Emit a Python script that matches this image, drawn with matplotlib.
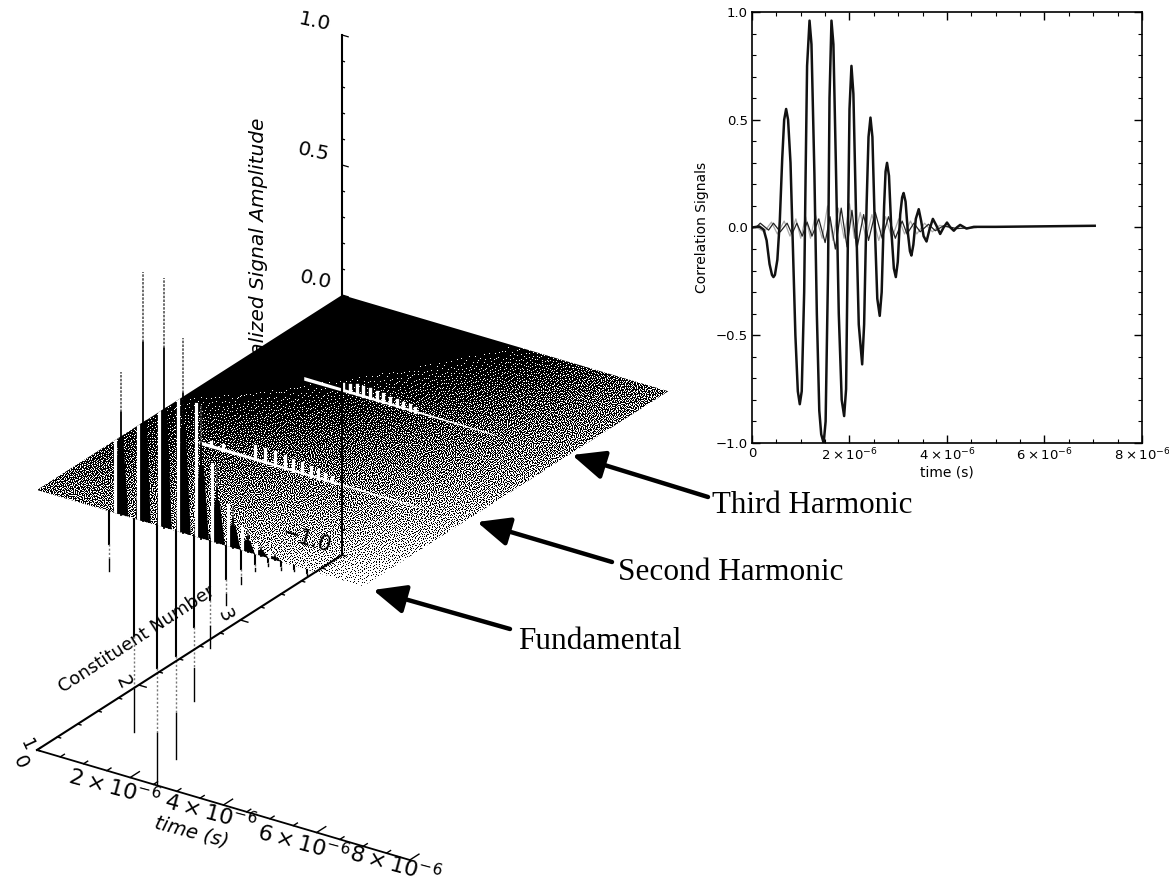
import numpy as np
import matplotlib
matplotlib.use('Agg')
import matplotlib.pyplot as plt
from matplotlib.patches import Polygon

# correlation signals, time in units of 1e-6 s
main_t = np.array([0, 0.15, 0.24, 0.30, 0.36, 0.41, 0.44, 0.47, 0.52, 0.57, 0.62, 0.66, 0.70, 0.74, 0.79, 0.84,
                   0.89, 0.94, 0.98, 1.02, 1.07, 1.10, 1.13, 1.18, 1.22, 1.28, 1.33, 1.38, 1.42, 1.47, 1.51, 1.56,
                   1.59, 1.63, 1.67, 1.72, 1.78, 1.84, 1.89, 1.93, 1.97, 2.00, 2.04, 2.08, 2.13, 2.19, 2.26, 2.30,
                   2.35, 2.39, 2.43, 2.47, 2.52, 2.57, 2.62, 2.66, 2.71, 2.74, 2.77, 2.81, 2.86, 2.91, 2.95, 2.99,
                   3.04, 3.08, 3.11, 3.15, 3.20, 3.24, 3.27, 3.31, 3.36, 3.42, 3.47, 3.52, 3.58, 3.64, 3.71, 3.78,
                   3.86, 3.93, 4.00, 4.07, 4.14, 4.20, 4.27, 4.40, 4.55, 5.00, 7.03])
main_v = np.array([0, 0.005, -0.01, -0.06, -0.17, -0.22, -0.23, -0.22, -0.15, 0.03, 0.32, 0.50, 0.55, 0.50, 0.30, -0.10,
                   -0.50, -0.76, -0.82, -0.76, -0.30, 0.25, 0.75, 0.96, 0.85, 0.25, -0.40, -0.85, -0.96, -1.0, -0.90, -0.20,
                   0.60, 0.96, 0.85, 0.30, -0.40, -0.80, -0.875, -0.75, 0.0, 0.55, 0.75, 0.62, 0.10, -0.45, -0.635, -0.45,
                   0.10, 0.42, 0.51, 0.42, 0.0, -0.33, -0.41, -0.30, 0.10, 0.26, 0.30, 0.24, -0.02, -0.19, -0.23, -0.16,
                   0.06, 0.14, 0.16, 0.12, -0.03, -0.11, -0.13, -0.08, 0.04, 0.085, 0.03, -0.04, -0.065, -0.01, 0.04, 0.01,
                   -0.03, 0.0, 0.023, 0.0, -0.015, 0.0, 0.012, -0.005, 0.003, 0.003, 0.008])

second_t = np.array([0.08, 0.17, 0.34, 0.44, 0.58, 0.72, 0.82, 0.92, 1.03, 1.13, 1.23, 1.37, 1.50, 1.60, 1.71, 1.83, 1.95,
                     2.05, 2.15, 2.29, 2.39, 2.53, 2.67, 2.80, 2.94, 3.08, 3.18, 3.32, 3.45, 3.62, 3.76, 3.93, 4.20, 4.60])
second_v = np.array([0, 0.02, -0.012, 0.02, -0.02, 0.02, -0.03, 0.02, -0.04, 0.025, -0.04, 0.04, -0.07, 0.05, -0.10, 0.09, -0.09,
                     0.08, -0.10, 0.06, -0.06, 0.07, -0.05, 0.05, -0.05, 0.03, -0.03, 0.02, -0.02, 0.015, -0.015, 0.008, -0.005, 0])

third_t = np.array([0.10, 0.25, 0.40, 0.52, 0.66, 0.78, 0.90, 1.00, 1.10, 1.20, 1.30, 1.44, 1.55, 1.66, 1.77, 1.89, 2.00,
                    2.10, 2.22, 2.34, 2.46, 2.60, 2.74, 2.87, 3.01, 3.13, 3.25, 3.38, 3.54, 3.70, 3.85, 4.05])
third_v = np.array([0, -0.02, 0.025, -0.03, 0.03, -0.04, 0.04, -0.05, 0.05, -0.05, 0.06, -0.05, 0.10, -0.06, 0.09, -0.05, 0.11,
                    -0.05, 0.07, -0.05, 0.06, -0.06, 0.05, -0.05, 0.04, -0.03, 0.03, -0.03, 0.02, -0.02, 0.01, 0])

# fundamental spikes on the surface plot (time in 1e-6 s)
spike_up_t = np.array([1.80, 2.28, 2.73, 3.14, 3.53, 3.87, 4.21, 4.52, 4.81, 5.10])
spike_up_v = np.array([0.55, 0.96, 0.96, 0.75, 0.51, 0.30, 0.16, 0.085, 0.04, 0.023])
spike_down_t = np.array([1.54, 2.08, 2.57, 2.99, 3.36, 3.72, 4.05, 4.37, 4.68, 4.96, 5.24, 5.52, 5.80])
spike_down_v = np.array([-0.23, -0.82, -1.0, -0.875, -0.635, -0.41, -0.23, -0.13, -0.065, -0.03, -0.03, -0.02, -0.02])

# harmonic ridges
ridge_c = [2, 3]
ridge_start = [1.30, 1.37]
ridge_end = [6.10, 5.50]
teeth2_t = np.array([1.55, 1.80, 2.49, 2.70, 2.92, 3.13, 3.31, 3.50, 3.70, 3.85, 4.00, 4.15])
teeth2_v = np.array([0.015, 0.02, 0.05, 0.05, 0.05, 0.045, 0.04, 0.04, 0.035, 0.03, 0.025, 0.02])
teeth3_t = np.array([2.20, 2.35, 2.50, 2.63, 2.78, 2.93, 3.06, 3.21, 3.36, 3.49, 3.64, 3.75])
teeth3_v = np.array([0.025, 0.03, 0.035, 0.035, 0.035, 0.03, 0.03, 0.025, 0.025, 0.02, 0.02, 0.015])

t_range = [0, 8]
c_range = [1, 4]
z_range = [-1, 1]
surf_t = [0, 7]
t_major = [2, 4, 6, 8]
t_minor = np.arange(0, 8.5, 0.5)
c_major = [2, 3]
c_minor = np.arange(1, 4.01, 0.2)
z_major = [0.0, 0.5, 1.0]
z_minor = np.arange(-1, 1.01, 0.1)


def project(t, c, z):
    # axonometric view of the box, in figure pixels
    t, c, z = np.asarray(t, float), np.asarray(c, float), np.asarray(z, float)
    x = 37 + 46.6 * t + 101.7 * (c - 1)
    y = 490 + 13.75 * t - 65.0 * (c - 1) - 260.0 * z
    return x, y


fig = plt.figure(figsize=(11.69, 8.88), dpi=100)
ax = fig.add_axes([0, 0, 1, 1])
ax.axis('off')

# axis title sits behind the surface
ax.text(259, 118, 'Normalized Signal Amplitude', rotation=90, ha='center', va='top', fontsize=14.5, style='italic', zorder=1)

# surface: grey level goes from black at the far corner to white at the near one, error diffused like the print
corners = [project(surf_t[0], c_range[0], 0), project(surf_t[1], c_range[0], 0),
           project(surf_t[1], c_range[1], 0), project(surf_t[0], c_range[1], 0)]
px0, px1 = 30, 680
py0, py1 = 285, 600
gx, gy = np.meshgrid(np.arange(px0, px1) + 0.5, np.arange(py0, py1) + 0.5)
inv = np.linalg.inv(np.array([[46.6, 101.7], [13.75, -65.0]]))
tt = inv[0, 0] * (gx - 37) + inv[0, 1] * (gy - 490)
cc = inv[1, 0] * (gx - 37) + inv[1, 1] * (gy - 490)
u = np.clip(tt / surf_t[1], 0, 1)
w = np.clip(cc / 3, 0, 1)
dark = (1 - u) * (1 - w) * 0.5 + u * (1 - w) * 0.04 + (1 - u) * w * 1.5 + u * w * 0.5
grey = (1 - np.clip(dark, 0, 1) ** 0.75).tolist()
# pixel hash jitters the threshold so the dots do not line up into bands
jitter = np.sin(gx * 12.9898 + gy * 78.233) * 43758.5453
jitter = (jitter - np.floor(jitter) - 0.5) * 0.8 + 0.5
jitter = jitter.tolist()
h = len(grey)
n = len(grey[0])
img = np.zeros((h, n))
for j in range(h):
    row = grey[j]
    below = grey[j + 1] if j + 1 < h else None
    for i in range(n):
        val = 1.0 if row[i] > jitter[j][i] else 0.0
        err = row[i] - val
        img[j, i] = val
        if i + 1 < n:
            row[i + 1] += err * 7 / 16
        if below is not None:
            below[i] += err * 5 / 16
            if i > 0:
                below[i - 1] += err * 3 / 16
            if i + 1 < n:
                below[i + 1] += err * 1 / 16

plate = Polygon([(float(x), float(y)) for x, y in corners], closed=True, transform=ax.transData, fc='none', ec='none')
ax.add_patch(plate)
im = ax.imshow(img, extent=(px0, px1, py1, py0), cmap='gray', vmin=0, vmax=1, interpolation='nearest', aspect='auto', zorder=2)
im.set_clip_path(plate)
ax.set_xlim(0, 1169)
ax.set_ylim(888, 0)

# ridges of the second and third harmonics, thinning out with time
for c, t0, t1 in zip(ridge_c, ridge_start, ridge_end):
    xs, ys = project([t0, t1, t1, t0], [c] * 4, [0.007, 0.002, -0.002, -0.007])
    ax.fill(xs, ys, color='white', lw=0, zorder=3)
for c, tv, vv in [(2, teeth2_t, teeth2_v), (3, teeth3_t, teeth3_v)]:
    for t, v in zip(tv, vv):
        xs, ys = project([t, t], [c, c], [0, v])
        ax.plot(xs, ys, color='white', lw=2.4, zorder=3)

# fundamental: wedges on the plate, white on the plate and thin dark stems outside it
for t, v in zip(spike_up_t, spike_up_v):
    xs, ys = project([t - 0.16, t + 0.16, t + 0.05, t - 0.05], [1] * 4, [0, 0, 0.55 * v, 0.55 * v])
    wedge = ax.fill(xs, ys, color='black', lw=0, zorder=3)[0]
    wedge.set_clip_path(plate)
    xs, ys = project([t, t], [1, 1], [0, 0.72 * v])
    ax.plot(xs, ys, color='black', lw=1.3, zorder=3)
    xs, ys = project([t, t], [1, 1], [0.72 * v, v])
    ax.plot(xs, ys, color='#555555', lw=1.2, ls=(0, (1.5, 0.8)), zorder=3)
    xs, ys = project([t - 0.12, t - 0.12], [1, 1], [0, v])
    stem = ax.plot(xs, ys, color='white', lw=2.3, zorder=4)[0]
    stem.set_clip_path(plate)

for t, v in zip(spike_down_t, spike_down_v):
    xs, ys = project([t, t], [1, 1], [0, 0.55 * v])
    ax.plot(xs, ys, color='black', lw=1.5, zorder=3)
    xs, ys = project([t, t], [1, 1], [0.55 * v, 0.8 * v])
    ax.plot(xs, ys, color='#777777', lw=1.0, ls=(0, (1.5, 1.5)), zorder=3)
    xs, ys = project([t, t], [1, 1], [0.8 * v, v])
    ax.plot(xs, ys, color='black', lw=1.0, zorder=3)

# box axes
xs, ys = project(t_range, [1, 1], [-1, -1])
ax.plot(xs, ys, color='black', lw=1.3, zorder=5)
xs, ys = project([0, 0], c_range, [-1, -1])
ax.plot(xs, ys, color='black', lw=1.5, zorder=5)
xs, ys = project([0, 0], [4, 4], z_range)
ax.plot(xs, ys, color='black', lw=1.5, zorder=5)

for t in t_minor:
    size = 0.09 if t in t_major else 0.04
    xs, ys = project([t, t], [1, 1 + size], [-1, -1])
    ax.plot(xs, ys, color='black', lw=1.0, zorder=5)
for c in c_minor:
    size = 0.16 if round(c, 1) in c_major else 0.07
    xs, ys = project([0, size], [c, c], [-1, -1])
    ax.plot(xs, ys, color='black', lw=1.0, zorder=5)
for z in z_minor:
    size = 0.13 if round(z, 1) in z_major else 0.05
    xs, ys = project([0, size], [4, 4], [z, z])
    ax.plot(xs, ys, color='black', lw=0.9, zorder=5)

# box labels
ax.text(315, 22, '1.0', fontsize=14.5, rotation=-12, ha='center', va='center')
ax.text(313, 152, '0.5', fontsize=14.5, rotation=-12, ha='center', va='center')
ax.text(315, 280, '0.0', fontsize=14.5, rotation=-12, ha='center', va='center')
ax.text(307, 540, '\u22121.0', fontsize=15, rotation=-17, ha='center', va='center', zorder=6)
ax.text(137, 639, 'Constituent Number', fontsize=13, rotation=33, ha='center', va='center', zorder=6)
ax.text(192, 832, 'time (s)', fontsize=14, rotation=-15, style='italic', ha='center', va='center', zorder=6)
ax.text(27, 745, '1', fontsize=13, rotation=-65, ha='center', va='center', zorder=6)
ax.text(20, 762, '0', fontsize=14, rotation=-65, ha='center', va='center', zorder=6)
ax.text(123, 682, '2', fontsize=14, rotation=-65, ha='center', va='center', zorder=6)
ax.text(225, 615, '3', fontsize=14, rotation=-65, ha='center', va='center', zorder=6)
for label, x, y in zip(['2', '4', '6', '8'], [114, 210, 303, 395], [787, 812, 843, 864]):
    ax.text(x, y, r'$%s\times10^{-6}$' % label, fontsize=16, rotation=-15, ha='center', va='center', zorder=6)

# arrows and their labels
arrow = dict(arrowstyle='-|>,head_length=0.95,head_width=0.42', lw=3.2, color='black', mutation_scale=21, shrinkA=0, shrinkB=0)
ax.annotate('', xy=(572, 455), xytext=(708, 497), arrowprops=arrow, zorder=6)
ax.annotate('', xy=(477, 522), xytext=(612, 562), arrowprops=arrow, zorder=6)
ax.annotate('', xy=(373, 590), xytext=(510, 629), arrowprops=arrow, zorder=6)
ax.text(712, 505, 'Third Harmonic', family='Liberation Serif', fontsize=22.3, ha='left', va='center')
ax.text(618, 572, 'Second Harmonic', family='Liberation Serif', fontsize=22.5, ha='left', va='center')
ax.text(518, 641, 'Fundamental', family='Liberation Serif', fontsize=22.5, ha='left', va='center')

# correlation signals panel
inset = fig.add_axes([752 / 1169, 1 - 443 / 888, 390 / 1169, 431 / 888])
inset.plot(third_t * 1e-6, third_v, color='#aaaaaa', lw=0.9)
inset.plot(second_t * 1e-6, second_v, color='#222222', lw=0.9)
inset.plot(main_t * 1e-6, main_v, color='#111111', lw=1.8)
inset.set_xlim(0, 8e-6)
inset.set_ylim(-1, 1)
inset.set_xticks([0, 2e-6, 4e-6, 6e-6, 8e-6])
inset.set_xticklabels(['0', r'$2\times10^{-6}$', r'$4\times10^{-6}$', r'$6\times10^{-6}$', r'$8\times10^{-6}$'], fontsize=9.5)
inset.set_xticks(np.arange(0, 8.1e-6, 0.5e-6), minor=True)
inset.set_yticks([-1, -0.5, 0, 0.5, 1])
inset.set_yticklabels(['\u22121.0', '\u22120.5', '0.0', '0.5', '1.0'], fontsize=9.5)
inset.set_yticks(np.arange(-1, 1.01, 0.1), minor=True)
inset.tick_params(which='major', direction='in', top=True, right=True, length=6, width=1.0, pad=3)
inset.tick_params(which='minor', direction='in', top=True, right=True, length=3, width=0.8)
inset.set_xlabel('time (s)', fontsize=10, labelpad=1)
inset.set_ylabel('Correlation Signals', fontsize=10, labelpad=5)
for spine in inset.spines.values():
    spine.set_linewidth(1.2)

fig.savefig('out.png', dpi=100)
